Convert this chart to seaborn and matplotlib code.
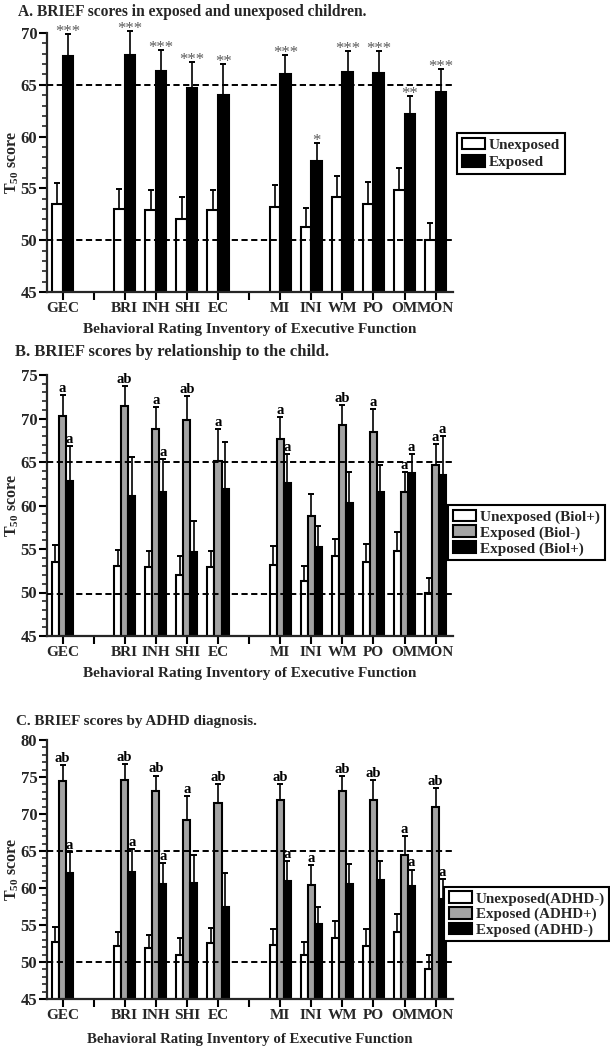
import numpy as np
import pandas as pd
import matplotlib
matplotlib.use("Agg")
import matplotlib.pyplot as plt
import seaborn as sns
from matplotlib.patches import Patch
from matplotlib.ticker import MultipleLocator

# ---------------- data ----------------
categories = ['GEC', 'BRI', 'INH', 'SHI', 'EC', 'MI', 'INI', 'WM', 'PO', 'OM', 'MON']
slot_order = ['GEC', ' ', 'BRI', 'INH', 'SHI', 'EC', '  ', 'MI', 'INI', 'WM', 'PO', 'OM', 'MON']

# Panel A
a_names = ['Unexposed', 'Exposed']
a_unexp = [53.5, 53.0, 52.9, 52.0, 52.9, 53.2, 51.3, 54.2, 53.5, 54.8, 50.0]
a_unexp_sem = [2.0, 1.9, 1.9, 2.2, 1.9, 2.1, 1.8, 2.0, 2.1, 2.2, 1.7]
a_exp = [67.8, 67.9, 66.3, 64.7, 64.0, 66.0, 57.6, 66.2, 66.1, 62.2, 64.3]
a_exp_sem = [2.1, 2.3, 2.1, 2.5, 3.0, 1.9, 1.8, 2.1, 2.2, 1.7, 2.2]
a_stars = ['***', '***', '***', '***', '**', '***', '*', '***', '***', '**', '***']

# Panel B
b_names = ['Unexposed (Biol+)', 'Exposed (Biol-)', 'Exposed (Biol+)']
b_unexp = [53.5, 53.0, 52.9, 52.0, 52.9, 53.2, 51.3, 54.2, 53.5, 54.8, 50.0]
b_unexp_sem = [2.0, 1.9, 1.9, 2.2, 1.9, 2.1, 1.8, 2.0, 2.1, 2.2, 1.7]
b_biolneg = [70.3, 71.4, 68.8, 69.8, 65.1, 67.7, 58.8, 69.3, 68.4, 61.5, 64.7]
b_biolneg_sem = [2.4, 2.3, 2.5, 2.8, 3.7, 2.5, 2.5, 2.3, 2.7, 2.3, 2.4]
b_biolpos = [62.8, 61.1, 61.5, 54.6, 61.9, 62.6, 55.2, 60.3, 61.6, 63.7, 63.5]
b_biolpos_sem = [4.0, 4.5, 3.8, 3.6, 5.4, 3.3, 2.4, 3.5, 3.0, 2.2, 4.5]
b_lab_neg = ['a', 'ab', 'a', 'ab', 'a', 'a', '', 'ab', 'a', 'a', 'a']
b_lab_pos = ['a', '', 'a', '', '', 'a', '', '', '', 'a', 'a']

# Panel C
c_names = ['Unexposed(ADHD-)', 'Exposed (ADHD+)', 'Exposed (ADHD-)']
c_unexp = [52.7, 52.1, 51.9, 50.9, 52.6, 52.3, 50.9, 53.3, 52.2, 54.1, 49.1]
c_unexp_sem = [2.0, 1.9, 1.8, 2.3, 2.0, 2.1, 1.8, 2.2, 2.2, 2.4, 1.8]
c_adhdpos = [74.4, 74.6, 73.1, 69.2, 71.5, 71.9, 60.4, 73.1, 71.9, 64.5, 71.0]
c_adhdpos_sem = [2.2, 2.2, 2.1, 3.2, 2.6, 2.2, 2.7, 2.0, 2.7, 2.5, 2.5]
c_adhdneg = [62.0, 62.1, 60.5, 60.7, 57.4, 61.0, 55.2, 60.5, 61.1, 60.3, 58.5]
c_adhdneg_sem = [2.9, 3.2, 2.9, 3.7, 4.6, 2.7, 2.3, 2.8, 2.6, 2.2, 2.7]
c_lab_pos = ['ab', 'ab', 'ab', 'a', 'ab', 'ab', 'a', 'ab', 'ab', 'a', 'ab']
c_lab_neg = ['a', 'a', 'a', '', '', 'a', '', '', '', 'a', 'a']

titles = ['A. BRIEF scores in exposed and unexposed children.',
          'B. BRIEF scores by relationship to the child.',
          'C. BRIEF scores by ADHD diagnosis.']
xlabel = 'Behavioral Rating Inventory of Executive Function'
ylabel = 'T$_{50}$ score'

# ---------------- style ----------------
sns.set_style('ticks')
plt.rcParams['font.family'] = ['Liberation Serif', 'DejaVu Serif']
plt.rcParams['font.weight'] = 'bold'
plt.rcParams['mathtext.fontset'] = 'custom'
plt.rcParams['mathtext.rm'] = 'Liberation Serif:bold'
plt.rcParams['mathtext.it'] = 'Liberation Serif:bold'
plt.rcParams['mathtext.bf'] = 'Liberation Serif:bold'
plt.rcParams['axes.linewidth'] = 1.6

W, H = 610, 1050
fig = plt.figure(figsize=(W / 100, H / 100), dpi=100)


def px_axes(left, top, right, bottom):
    return fig.add_axes([left / W, 1 - bottom / H, (right - left) / W, (bottom - top) / H])


def draw_panel(ax, names, means, sems, colors, ylim, dashed, labels, label_style,
               lab_size):
    rows = []
    for n, m in zip(names, means):
        for c, v in zip(categories, m):
            rows.append({'cat': c, 'group': n, 'val': v})
    df = pd.DataFrame(rows)
    sem_lookup = {}
    for n, s in zip(names, sems):
        for c, v in zip(categories, s):
            sem_lookup[(n, c)] = v
    lab_lookup = {}
    for n, labs in labels.items():
        for c, l in zip(categories, labs):
            lab_lookup[(n, c)] = l

    sns.barplot(data=df, x='cat', y='val', hue='group', order=slot_order,
                hue_order=names, palette=colors, width=0.68, saturation=1,
                edgecolor='black', linewidth=1.5, errorbar=None, legend=False, ax=ax)
    nh = len(names)
    bw = 0.68 / nh
    for p in ax.patches:
        h = p.get_height()
        if not np.isfinite(h) or h == 0:
            continue
        xc = p.get_x() + p.get_width() / 2
        ci = int(round(xc))
        hi = int(round((xc - ci + 0.34 - bw / 2) / bw))
        cat = slot_order[ci]
        grp = names[hi]
        top = p.get_y() + h
        s = sem_lookup[(grp, cat)]
        eb = ax.errorbar(xc, top, yerr=[[0], [s]], fmt='none', ecolor='black',
                         elinewidth=1.2, capsize=2.2, capthick=1.4, zorder=3)
        for art in eb.lines[1] + eb.lines[2]:
            art.set_clip_on(False)
        lab = lab_lookup.get((grp, cat), '')
        if lab:
            if label_style == 'stars':
                ax.annotate(lab, xy=(xc, top + s), xytext=(0, -1.5), textcoords='offset points',
                            ha='center', va='baseline', fontsize=12, fontweight='normal',
                            color='#5a5a5a', annotation_clip=False)
            else:
                ax.annotate(lab, xy=(xc, top + s), xytext=(0, 2.2), textcoords='offset points',
                            ha='center', va='baseline', fontsize=lab_size, fontweight='bold',
                            color='black', annotation_clip=False)
    for d in dashed:
        ax.axhline(d, color='black', lw=1.4, ls=(0, (3.2, 1.8)), zorder=4)
    ax.set_xlim(-0.5, 12.56)
    ax.set_ylim(*ylim)
    ax.yaxis.set_major_locator(MultipleLocator(5))
    ax.yaxis.set_minor_locator(MultipleLocator(1))
    ax.tick_params(axis='both', which='major', direction='out', length=6, width=1.5,
                   color='black')
    ax.tick_params(axis='y', which='minor', direction='out', length=3.5, width=1.2)
    ax.tick_params(axis='x', labelsize=11, pad=1)
    ax.tick_params(axis='y', labelsize=12, pad=1)
    for lab in ax.get_xticklabels() + ax.get_yticklabels():
        lab.set_fontweight('bold')
    sns.despine(ax=ax)


def add_legend(names, colors, left, top, fsize, lspace, hh):
    handles = [Patch(facecolor=c, edgecolor='black', linewidth=1.5, label=n)
               for n, c in zip(names, colors)]
    leg = fig.legend(handles=handles, loc='upper left', bbox_to_anchor=(left / W, 1 - top / H),
                     frameon=True, fancybox=False, edgecolor='black', framealpha=1,
                     prop={'family': 'Liberation Serif', 'weight': 'bold', 'size': fsize},
                     handlelength=1.55, handleheight=hh, handletextpad=0.25,
                     labelspacing=lspace, borderpad=0.3, borderaxespad=0)
    leg.get_frame().set_linewidth(1.5)


def labels_for(ax, xsize, lpad, ysize):
    ax.set_xlabel(xlabel, fontsize=xsize, fontweight='bold', labelpad=lpad)
    ax.set_ylabel(ylabel, fontsize=ysize, fontweight='bold')
    ax.yaxis.set_label_coords(-0.064, 0.5)


gray = '#a3a3a3'

# Panel A
axA = px_axes(47, 33, 453, 292)
draw_panel(axA, a_names, [a_unexp, a_exp], [a_unexp_sem, a_exp_sem], ['white', 'black'],
           (45, 70), [65, 50], {'Exposed': a_stars}, 'stars', 10.5)
labels_for(axA, 11, 6, 11.5)
add_legend(a_names, ['white', 'black'], 457, 133, 11, 0.25, 0.75)

# Panel B
axB = px_axes(47, 375, 453, 636)
draw_panel(axB, b_names, [b_unexp, b_biolneg, b_biolpos],
           [b_unexp_sem, b_biolneg_sem, b_biolpos_sem], ['white', gray, 'black'],
           (45, 75), [65, 49.8], {b_names[1]: b_lab_neg, b_names[2]: b_lab_pos}, 'letters',
           10.5)
labels_for(axB, 11, 6, 11.5)
add_legend(b_names, ['white', gray, 'black'], 448, 505, 11, 0.1, 0.8)

# Panel C
axC = px_axes(47, 740, 453, 999)
draw_panel(axC, c_names, [c_unexp, c_adhdpos, c_adhdneg],
           [c_unexp_sem, c_adhdpos_sem, c_adhdneg_sem], ['white', gray, 'black'],
           (45, 80), [65, 50], {c_names[1]: c_lab_pos, c_names[2]: c_lab_neg}, 'letters',
           10.5)
labels_for(axC, 10.7, 8, 11.5)
add_legend(c_names, ['white', gray, 'black'], 444, 887, 10.8, 0.1, 0.8)

fig.text(18 / W, 1 - 12 / H, titles[0], ha='left', va='center', fontsize=11.2, fontweight='bold')
fig.text(15 / W, 1 - 352 / H, titles[1], ha='left', va='center', fontsize=12, fontweight='bold')
fig.text(16 / W, 1 - 722 / H, titles[2], ha='left', va='center', fontsize=10.9, fontweight='bold')

fig.savefig('out.png', dpi=100)
